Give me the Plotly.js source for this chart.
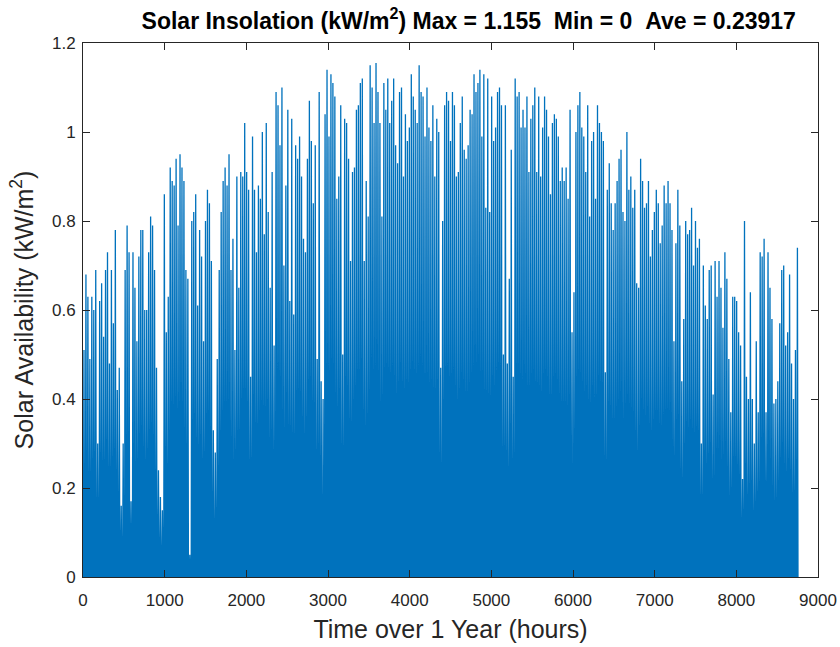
<!DOCTYPE html>
<html>
<head>
<meta charset="utf-8">
<script src="https://cdn.plot.ly/plotly-3.0.1.min.js"></script>
<style>html,body{margin:0;padding:0;background:#fff;}#chart{width:840px;height:647px;}</style>
</head>
<body>
<div id="chart"></div>
<script>
// Daily peak insolation (kW/m^2), about one month per block
const block1 = [0.51,0.68,0.63,0.49,0.63,0.60,0.69,0.30,0.62,0.66,0.54,0.69,0.73,0.48,0.69,0.57,0.78,0.42,0.47,0.16,0.30,0.69,0.79,0.73,0.17,0.73,0.65,0.53,0.72,0.78];
const block2 = [0.78,0.60,0.60,0.73,0.81,0.79,0.69,0.47,0.24,0.18,0.15,0.86,0.55,0.63,0.92,0.89,0.88,0.94,0.79,0.95,0.92,0.89,0.69,0.67,0.05,0.80,0.82,0.86,0.61,0.78,0.72];
const block3 = [0.53,0.80,0.87,0.84,0.71,0.33,0.28,0.49,0.69,0.82,0.89,0.92,0.88,0.95,0.69,0.76,0.51,0.90,0.65,0.91,0.90,1.02,0.91,0.87,0.45,0.99,0.87,0.73,0.88,0.85,1.00];
const block4 = [0.77,1.02,0.82,0.65,0.91,0.52,1.09,1.06,0.97,1.10,0.70,0.88,1.05,0.62,1.03,0.59,0.97,0.94,0.99,0.90,0.76,0.73,0.94,1.07,0.98,0.84,0.97,0.49,1.09,0.44];
const block5 = [0.40,1.04,1.14,0.99,1.13,1.11,1.08,0.85,0.90,1.06,0.50,1.03,1.02,0.94,0.71,0.91,0.92,1.05,1.06,1.11,1.12,0.71,0.89,0.81,1.15,1.10,1.02,1.155,1.09,1.02,0.81];
const block6 = [1.11,1.05,1.12,1.02,1.07,1.12,0.97,0.93,1.09,1.10,0.90,1.04,0.98,1.01,1.13,1.08,1.05,1.02,1.15,1.09,1.08,0.99,1.10,1.01,0.98,1.06,0.90,1.03,1.00,0.47,0.80];
const block7 = [1.06,1.09,1.07,0.98,1.09,1.06,0.90,0.91,1.02,1.08,0.96,0.94,0.97,1.05,1.04,1.13,1.09,1.11,1.14,0.99,1.13,0.83,1.12,0.82,1.08,0.98,1.01,1.09,1.10,1.06,0.50];
const block8 = [1.06,0.48,0.67,0.96,0.45,1.12,1.08,1.09,1.01,1.05,1.01,1.08,0.91,1.03,1.06,1.10,0.91,1.08,0.90,1.01,1.08,1.05,0.99,0.86,1.02,1.04,1.03,0.99,0.89,0.92];
const block9 = [0.89,0.92,0.85,1.05,0.55,0.64,1.00,1.06,1.09,1.01,0.99,0.91,1.06,0.81,0.98,1.00,0.85,1.06,1.02,1.00,0.98,0.46,0.87,0.93,0.84,0.78,0.84,0.89,0.94,0.96,0.82];
const block10 = [0.80,1.00,0.87,0.90,0.83,0.87,0.66,0.65,0.94,0.89,0.83,0.84,0.89,0.72,0.78,0.82,0.87,0.84,0.75,0.79,0.88,0.84,0.89,0.84,0.78,0.53,0.75,0.87,0.79,0.44,0.58];
const block11 = [0.80,0.77,0.78,0.83,0.70,0.80,0.74,0.76,0.30,0.70,0.61,0.58,0.69,0.70,0.41,0.71,0.63,0.71,0.65,0.56,0.73,0.67,0.49,0.37,0.63,0.63,0.62,0.55,0.52,0.22,0.80];
const block12 = [0.45,0.40,0.64,0.40,0.30,0.53,0.37,0.73,0.72,0.76,0.37,0.73,0.65,0.58,0.39,0.40,0.44,0.57,0.69,0.70,0.52,0.55,0.68,0.48,0.40,0.51,0.74];

const xTicks = [0,1000,2000,3000,4000,5000,6000,7000,8000,9000];
const yTicks = [0,0.2,0.4,0.6,0.8,1,1.2];
const yTickText = ['0','0.2','0.4','0.6','0.8','1','1.2'];

const titleText = 'Solar Insolation (kW/m<sup>2</sup>) Max = 1.155 &nbsp;Min = 0 &nbsp;Ave = 0.23917';

const peaks = [].concat(block1,block2,block3,block4,block5,block6,block7,block8,block9,block10,block11,block12);

// each day: dark at sunrise, peak at midday, dark at sunset (hour of year on x)
const xs = [], ys = [];
peaks.forEach((p, d) => {
  xs.push(d*24 + 5, d*24 + 12, d*24 + 19);
  ys.push(0, p, 0);
});

const axisCol = '#262626';
const font = 'Liberation Sans, Arial, Helvetica, sans-serif';

Plotly.newPlot('chart', [{
  x: xs, y: ys, type: 'scatter', mode: 'lines',
  line: {color: '#0072BD', width: 1.3},
  fill: 'tozeroy', fillcolor: '#0072BD',
  hoverinfo: 'skip'
}], {
  width: 840, height: 647,
  margin: {l: 83, r: 22, t: 43, b: 70},
  paper_bgcolor: '#fff', plot_bgcolor: '#fff',
  showlegend: false,
  font: {family: font, color: axisCol},
  title: {text: titleText, x: 0.558, xanchor: 'center', y: 0.968, yanchor: 'middle',
          font: {family: font, size: 23, color: '#000', weight: 'bold'}},
  xaxis: {
    range: [0, 9000], tickvals: xTicks, ticktext: xTicks.map(String),
    ticks: 'inside', ticklen: 7, tickcolor: axisCol, tickwidth: 1,
    showline: true, linecolor: axisCol, linewidth: 1, mirror: 'ticks',
    showgrid: false, zeroline: false, ticklabelstandoff: 8,
    tickfont: {size: 17, color: axisCol},
    title: {text: 'Time over 1 Year (hours)', font: {size: 25, color: axisCol}, standoff: 11}
  },
  yaxis: {
    range: [0, 1.2], tickvals: yTicks, ticktext: yTickText,
    ticks: 'inside', ticklen: 7, tickcolor: axisCol, tickwidth: 1,
    showline: true, linecolor: axisCol, linewidth: 1, mirror: 'ticks',
    showgrid: false, zeroline: false, ticklabelstandoff: 3,
    tickfont: {size: 17, color: axisCol},
    title: {text: 'Solar Availability (kW/m<sup>2</sup>)', font: {size: 25, color: axisCol}, standoff: 11}
  }
}, {staticPlot: true});
</script>
</body>
</html>
